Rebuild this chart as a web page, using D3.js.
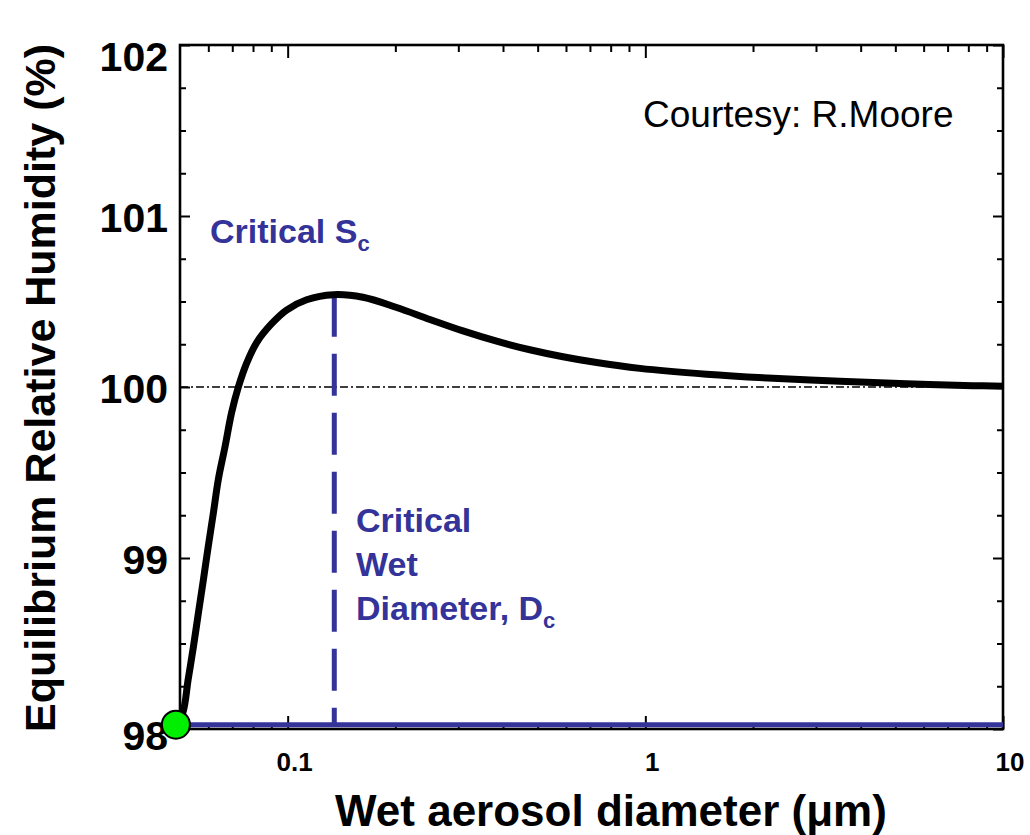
<!DOCTYPE html>
<html>
<head>
<meta charset="utf-8">
<script src="https://cdn.jsdelivr.net/npm/d3@7"></script>
<style>
  html, body { margin: 0; padding: 0; background: #fff; }
  svg { display: block; }
  text { font-family: "Liberation Sans", Arial, Helvetica, sans-serif; }
</style>
</head>
<body>
<svg id="chart" width="1030" height="835"></svg>
<script>
// Köhler curve: equilibrium RH over a growing wet droplet
const wetDiameter = [0.0487, 0.05087, 0.0527, 0.0545, 0.0563, 0.0581, 0.0600, 0.06195, 0.0640,
  0.0668, 0.0697, 0.0728, 0.0768, 0.0819, 0.0902, 0.0993, 0.1130, 0.1342, 0.1624, 0.2017,
  0.2499, 0.3091, 0.3840, 0.4755, 0.5886, 0.7309, 0.9658, 1.484, 2.274, 3.500, 5.377, 8.24, 10.0];
const equilibriumRH = [98.03, 98.094, 98.29, 98.48, 98.68, 98.87, 99.07, 99.26, 99.46,
  99.65, 99.85, 100.00, 100.14, 100.26, 100.37, 100.45, 100.51, 100.54, 100.525, 100.465,
  100.395, 100.328, 100.268, 100.218, 100.177, 100.143, 100.109, 100.075, 100.051, 100.033, 100.019, 100.008, 100.004];

// critical point and dry starting point
const criticalDiameter = 0.135;
const criticalRH = 100.54;
const startDiameter = 0.0487;
const startRH = 98.025;
const saturationRH = 100;

// axis ticks
const xMajorTicks = [0.1, 1, 10];
const xTickLabels = ["0.1", "1", "10"];
const xMinorTicks = [0.06, 0.07, 0.08, 0.09, 0.2, 0.3, 0.4, 0.5, 0.6, 0.7, 0.8, 0.9, 2, 3, 4, 5, 6, 7, 8, 9];
const yMajorTicks = [98, 99, 100, 101, 102];
const yMinorTicks = d3.range(98, 102.001, 0.25).filter(v => Math.abs(v - Math.round(v)) > 1e-6);

const blue = "#333399";
const svg = d3.select("#chart");

const x = d3.scaleLog().domain([0.05, 10]).range([180, 1003]);
const y = d3.scaleLinear().domain([98, 102]).range([729, 45]);

// saturation reference line (dash-dot)
svg.append("line")
  .attr("x1", x(0.05)).attr("x2", x(10))
  .attr("y1", y(saturationRH)).attr("y2", y(saturationRH))
  .attr("stroke", "#000").attr("stroke-width", 1.5)
  .attr("stroke-dasharray", "8 3 2 3");

// axes: ticks point inward on all four sides
function axisGroup(axis, tx, ty) {
  const g = svg.append("g").attr("transform", `translate(${tx},${ty})`).call(axis);
  g.select(".domain").remove();
  g.selectAll(".tick line").attr("stroke", "#000").attr("stroke-width", 2);
  return g;
}

// bottom axis: major ticks without d3 labels; labels drawn below
axisGroup(d3.axisBottom(x).tickValues(xMajorTicks).tickSize(-13).tickFormat(""), 0, y(98));
axisGroup(d3.axisBottom(x).tickValues(xMinorTicks).tickSize(-6).tickFormat(""), 0, y(98));
axisGroup(d3.axisTop(x).tickValues(xMajorTicks).tickSize(-13).tickFormat(""), 0, y(102));
axisGroup(d3.axisTop(x).tickValues(xMinorTicks).tickSize(-7).tickFormat(""), 0, y(102));

svg.append("g").selectAll("text")
  .data(xMajorTicks)
  .join("text")
  .attr("x", d => x(d) + 7)
  .attr("y", y(98) + 42)
  .attr("text-anchor", "middle")
  .attr("font-size", 26)
  .attr("font-weight", "bold")
  .attr("fill", "#000")
  .text((d, i) => xTickLabels[i]);

const gyl = axisGroup(d3.axisLeft(y).tickValues(yMajorTicks).tickSize(-10).tickPadding(12)
  .tickFormat(d3.format("d")), x(0.05), 0);
gyl.selectAll("text")
  .style("font-size", "41px").style("font-weight", "bold")
  .style("font-family", "'Liberation Sans', Arial, sans-serif")
  .attr("fill", "#000")
  .attr("dy", d => d === 102 ? "0.62em" : (d === 98 ? "0.5em" : "0.38em"));
axisGroup(d3.axisLeft(y).tickValues(yMinorTicks).tickSize(-6).tickFormat(""), x(0.05), 0);
axisGroup(d3.axisRight(y).tickValues(yMajorTicks).tickSize(-10).tickFormat(""), x(10), 0);
axisGroup(d3.axisRight(y).tickValues(yMinorTicks).tickSize(-6).tickFormat(""), x(10), 0);

// frame
svg.append("rect")
  .attr("x", x(0.05)).attr("y", y(102))
  .attr("width", x(10) - x(0.05)).attr("height", y(98) - y(102))
  .attr("fill", "none").attr("stroke", "#000").attr("stroke-width", 2.6);

// horizontal baseline from the dry particle
svg.append("line")
  .attr("x1", x(startDiameter)).attr("x2", x(10))
  .attr("y1", y(startRH)).attr("y2", y(startRH))
  .attr("stroke", blue).attr("stroke-width", 5);

// critical diameter marker
svg.append("line")
  .attr("x1", x(criticalDiameter)).attr("x2", x(criticalDiameter))
  .attr("y1", y(criticalRH)).attr("y2", y(startRH))
  .attr("stroke", blue).attr("stroke-width", 5)
  .attr("stroke-dasharray", "42 17");

// Köhler curve
const pts = wetDiameter.map((d, i) => [d, equilibriumRH[i]]);
svg.append("path")
  .datum(pts)
  .attr("fill", "none").attr("stroke", "#000").attr("stroke-width", 7)
  .attr("stroke-linejoin", "round")
  .attr("d", d3.line().x(d => x(d[0])).y(d => y(d[1])).curve(d3.curveCatmullRom.alpha(0.5)));

// dry particle marker
svg.append("circle")
  .attr("cx", x(startDiameter)).attr("cy", y(startRH)).attr("r", 14)
  .attr("fill", "#00ee00").attr("stroke", "#000").attr("stroke-width", 2);

// annotations
const sc = svg.append("text").attr("x", 210).attr("y", 243)
  .attr("fill", blue).attr("font-size", 34).attr("font-weight", "bold");
sc.append("tspan").text("Critical S");
sc.append("tspan").attr("font-size", 22).attr("dy", 8).text("c");

const dcLines = ["Critical", "Wet", "Diameter, D"];
dcLines.forEach((t, i) => {
  const tx = svg.append("text").attr("x", 356).attr("y", 532 + i * 44)
    .attr("fill", blue).attr("font-size", 34).attr("font-weight", "bold");
  tx.append("tspan").text(t);
  if (i === 2) tx.append("tspan").attr("font-size", 22).attr("dy", 8).text("c");
});

svg.append("text").attr("x", 643).attr("y", 127)
  .attr("font-size", 37).attr("fill", "#000").text("Courtesy: R.Moore");

// axis titles
svg.append("text").attr("x", 611).attr("y", 826)
  .attr("text-anchor", "middle").attr("font-size", 44).attr("font-weight", "bold")
  .text("Wet aerosol diameter (μm)");

svg.append("text")
  .attr("transform", `translate(55, 388) rotate(-90)`)
  .attr("text-anchor", "middle").attr("font-size", 43).attr("font-weight", "bold")
  .text("Equilibrium Relative Humidity (%)");
</script>
</body>
</html>
